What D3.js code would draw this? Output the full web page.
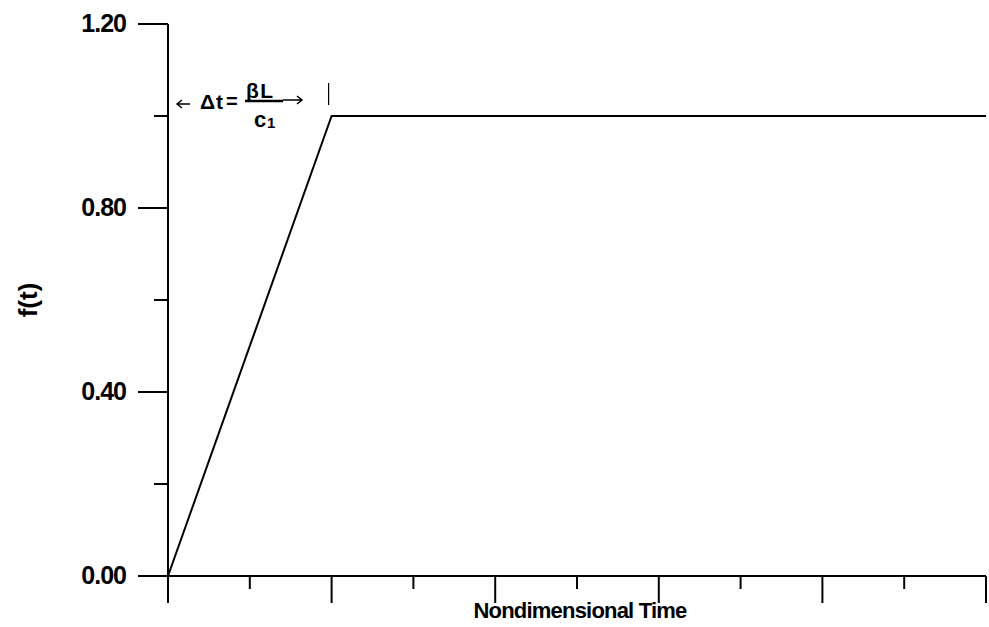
<!DOCTYPE html>
<html>
<head>
<meta charset="utf-8">
<script src="https://cdn.jsdelivr.net/npm/d3@7"></script>
<style>
  body { margin: 0; background: #fff; }
  text { font-family: "Liberation Sans", Arial, sans-serif; font-weight: bold; fill: #000; }
</style>
</head>
<body>
<svg id="chart" width="989" height="627"></svg>
<script>
// ramp input f(t): rises linearly over dt, then constant
const timeValues = [0, 2, 10];
const fValues = [0, 1, 1];
const yMajorTicks = [0, 0.4, 0.8, 1.2];
const yMinorTicks = [0.2, 0.6, 1.0];
const xMajorTicks = [0, 2, 4, 6, 8, 10];
const xMinorTicks = [1, 3, 5, 7, 9];

const svg = d3.select('#chart');
const x = d3.scaleLinear().domain([0, 10]).range([168, 986]);
const y = d3.scaleLinear().domain([0, 1.2]).range([576, 24]);

const axisG = svg.append('g').attr('stroke', '#000').attr('stroke-width', 2);

// y axis line (extends down to x tick length)
axisG.append('line')
    .attr('x1', x(0)).attr('x2', x(0))
    .attr('y1', y(1.2)).attr('y2', y(0) + 27);
// x axis line
axisG.append('line')
    .attr('x1', x(0)).attr('x2', x(10))
    .attr('y1', y(0)).attr('y2', y(0));

// y ticks
axisG.selectAll('.ymaj').data(yMajorTicks).enter().append('line')
    .attr('x1', x(0) - 30).attr('x2', x(0))
    .attr('y1', d => y(d)).attr('y2', d => y(d));
axisG.selectAll('.ymin').data(yMinorTicks).enter().append('line')
    .attr('x1', x(0) - 14).attr('x2', x(0))
    .attr('y1', d => y(d)).attr('y2', d => y(d));

// x ticks
axisG.selectAll('.xmaj').data(xMajorTicks).enter().append('line')
    .attr('x1', d => x(d)).attr('x2', d => x(d))
    .attr('y1', y(0)).attr('y2', y(0) + 27);
axisG.selectAll('.xmin').data(xMinorTicks).enter().append('line')
    .attr('x1', d => x(d)).attr('x2', d => x(d))
    .attr('y1', y(0)).attr('y2', y(0) + 13);

// y tick labels
svg.selectAll('.ylab').data(yMajorTicks).enter().append('text')
    .attr('x', x(0) - 42)
    .attr('y', d => y(d) + 8)
    .attr('text-anchor', 'end')
    .attr('font-size', 25)
    .attr('letter-spacing', -1)
    .text(d => d.toFixed(2));

// axis titles
svg.append('text')
    .attr('transform', `translate(37, ${y(0.6)}) rotate(-90)`)
    .attr('text-anchor', 'middle')
    .attr('font-size', 26)
    .text('f(t)');
svg.append('text')
    .attr('x', 580).attr('y', 618)
    .attr('text-anchor', 'middle')
    .attr('font-size', 22)
    .attr('letter-spacing', -0.8)
    .text('Nondimensional Time');

// the curve
const line = d3.line().x((d, i) => x(timeValues[i])).y(d => y(d));
svg.append('path')
    .datum(fValues)
    .attr('d', line)
    .attr('fill', 'none')
    .attr('stroke', '#000')
    .attr('stroke-width', 2);

// delta t annotation
const ay = y(1) - 16;
svg.append('line')
    .attr('x1', x(2) - 3).attr('x2', x(2) - 3)
    .attr('y1', 83).attr('y2', 105)
    .attr('stroke', '#000').attr('stroke-width', 1.2);
const ann = svg.append('g');
// arrows drawn as open-headed lines
const arrow = (x1, x2, yy) => {
    const dir = Math.sign(x2 - x1);
    ann.append('path')
        .attr('d', `M${x1},${yy}H${x2}M${x2 - dir * 5},${yy - 4}L${x2},${yy}L${x2 - dir * 5},${yy + 4}`)
        .attr('fill', 'none').attr('stroke', '#000').attr('stroke-width', 1.5);
};
arrow(190, 177, 104);
arrow(283, 302, 100);
ann.append('text').attr('x', 200).attr('y', ay + 9).attr('font-size', 21).attr('letter-spacing', 1).text('Δt');
ann.append('text').attr('x', 226).attr('y', ay + 8).attr('font-size', 20).text('=');
ann.append('text').attr('x', 246).attr('y', ay - 2).attr('font-size', 21).attr('letter-spacing', 1.5).text('βL');
ann.append('line').attr('x1', 245).attr('x2', 283).attr('y1', ay + 1).attr('y2', ay + 1)
    .attr('stroke', '#000').attr('stroke-width', 2.5);
ann.append('text').attr('x', 254).attr('y', ay + 27).attr('font-size', 22).text('c');
ann.append('text').attr('x', 267).attr('y', ay + 28).attr('font-size', 15).text('1');
</script>
</body>
</html>
